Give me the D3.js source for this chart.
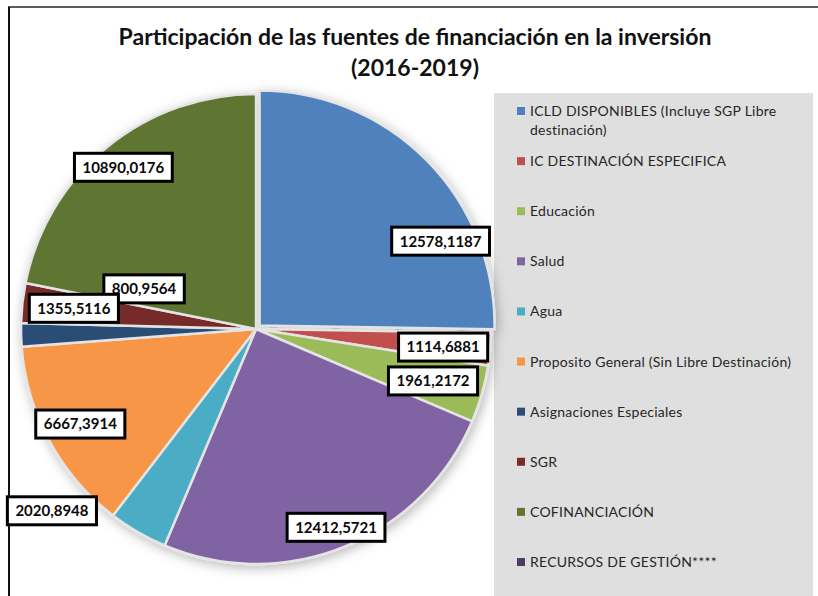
<!DOCTYPE html>
<html>
<head>
<meta charset="utf-8">
<script src="https://cdn.jsdelivr.net/npm/d3@7"></script>
<style>
  body { margin: 0; background: #fff; }
  svg { display: block; font-family: Lato, "Open Sans", sans-serif; }
</style>
</head>
<body>
<div class="chart"></div>
<script>
// Data ------------------------------------------------------------------------------------------
const categories = [
  "ICLD DISPONIBLES (Incluye SGP Libre destinación)",
  "IC DESTINACIÓN ESPECIFICA",
  "Educación",
  "Salud",
  "Agua",
  "Proposito General (Sin Libre Destinación)",
  "Asignaciones Especiales",
  "SGR",
  "COFINANCIACIÓN",
  "RECURSOS DE GESTIÓN****"
];
const values = [12578.1187, 1114.6881, 1961.2172, 12412.5721, 2020.8948, 6667.3914, 800.9564, 1355.5116, 10890.0176, 0];
const valueLabels = ["12578,1187", "1114,6881", "1961,2172", "12412,5721", "2020,8948", "6667,3914", "800,9564", "1355,5116", "10890,0176", ""];
const titleLines = ["Participación de las fuentes de financiación en la inversión", "(2016-2019)"];

// Colours (Excel 2007 palette)
const colors = ["#4F81BD", "#C0504D", "#9BBB59", "#8064A2", "#4BACC6", "#F79646", "#2C4D75", "#772C2A", "#5F7530", "#4D3B62"];

// Where Excel put each data label: [fraction along the slice angle, fraction of radius]
const labelPlacement = [[0.71, 0.87], [0.57, 0.80], [0.52, 0.785], [0.50, 0.91], [1.74, 1.163],
                        [0.50, 0.85], [4.15, 0.506], [0.51, 0.78], [0.50, 0.89], [0.5, 0.5]];

// Dimensions ------------------------------------------------------------------------------------
const width = 818, height = 596;
const cx = 256, cy = 329, radius = 235;

const svg = d3.select(".chart").append("svg")
  .attr("width", width)
  .attr("height", height);

const defs = svg.append("defs");
const shadow = defs.append("filter").attr("id", "shadow")
  .attr("x", "-20%").attr("y", "-20%").attr("width", "140%").attr("height", "140%");
shadow.append("feDropShadow")
  .attr("dx", 2).attr("dy", 3)
  .attr("stdDeviation", 6)
  .attr("flood-color", "#000")
  .attr("flood-opacity", 0.28);

// Frame
svg.append("line")
  .attr("x1", 8).attr("x2", width).attr("y1", 7).attr("y2", 7)
  .attr("stroke", "#5a5a5a").attr("stroke-width", 2);
svg.append("line")
  .attr("x1", 9).attr("x2", 9).attr("y1", 7).attr("y2", height)
  .attr("stroke", "#111").attr("stroke-width", 2);

// Title
svg.append("text")
  .attr("x", 415)
  .attr("y", 45)
  .attr("text-anchor", "middle")
  .style("font-size", "23px")
  .style("font-weight", "bold")
  .attr("fill", "#111")
  .selectAll("tspan")
  .data(titleLines)
  .join("tspan")
  .attr("x", 415)
  .attr("dy", (d, i) => i === 0 ? 0 : 31)
  .text(d => d);

// Legend background
svg.append("rect")
  .attr("x", 494).attr("y", 93)
  .attr("width", 319).attr("height", height - 93)
  .attr("fill", "#dfdfdf");

// Pie -------------------------------------------------------------------------------------------
const slices = categories.map((c, i) => ({name: c, value: values[i], label: valueLabels[i], color: colors[i], place: labelPlacement[i]}));

const pie = d3.pie().sort(null).value(d => d.value);
const arcs = pie(slices);

const arc = d3.arc().innerRadius(0).outerRadius(radius);

const gPie = svg.append("g")
  .attr("transform", `translate(${cx},${cy})`);

gPie.append("g")
  .attr("filter", "url(#shadow)")
  .selectAll("path")
  .data(arcs.filter(d => d.value > 0))
  .join("path")
  .attr("d", arc)
  .attr("transform", d => {
    if (d.index !== 0) return null;
    const mid = (d.startAngle + d.endAngle) / 2;
    return `translate(${5 * Math.sin(mid)},${-5 * Math.cos(mid)})`;
  })
  .attr("fill", d => d.data.color)
  .attr("stroke", "#e4e4e4")
  .attr("stroke-width", 2.5)
  .attr("stroke-linejoin", "round");

// Data labels
const gLabels = gPie.append("g");
arcs.filter(d => d.value > 0).forEach(d => {
  const a = d.startAngle + d.data.place[0] * (d.endAngle - d.startAngle);
  const r = d.data.place[1] * radius;
  const x = r * Math.sin(a), y = -r * Math.cos(a);
  const g = gLabels.append("g").attr("transform", `translate(${x},${y})`);
  const rect = g.append("rect");
  const t = g.append("text")
    .attr("text-anchor", "middle")
    .attr("dy", "0.36em")
    .style("font-size", "15px")
    .style("font-weight", "bold")
    .attr("fill", "#0a0a0a")
    .text(d.data.label);
  const w = t.node().getComputedTextLength() + 16;
  rect.attr("x", -w / 2).attr("y", -14)
    .attr("width", w).attr("height", 28)
    .attr("fill", "#fff")
    .attr("stroke", "#000")
    .attr("stroke-width", 3);
});

// Legend ----------------------------------------------------------------------------------------
const legendY = d3.scalePoint().domain(categories).range([111, 562]);

const legend = svg.append("g");
categories.forEach((c, i) => {
  const y = legendY(c);
  legend.append("rect")
    .attr("x", 517).attr("y", y - 4)
    .attr("width", 8).attr("height", 8)
    .attr("fill", colors[i]);
  const text = legend.append("text")
    .attr("x", 530).attr("y", y)
    .attr("dy", "0.36em")
    .style("font-size", "14px")
    .style("letter-spacing", "0.25px")
    .attr("fill", "#262626");
  // simple word wrap
  const words = c.split(" ");
  let line = [], tspan = text.append("tspan").attr("x", 530);
  words.forEach(w => {
    line.push(w);
    tspan.text(line.join(" "));
    if (tspan.node().getComputedTextLength() > 275 && line.length > 1) {
      line.pop();
      tspan.text(line.join(" "));
      line = [w];
      tspan = text.append("tspan").attr("x", 530).attr("dy", 19).text(w);
    }
  });
});
</script>
</body>
</html>
